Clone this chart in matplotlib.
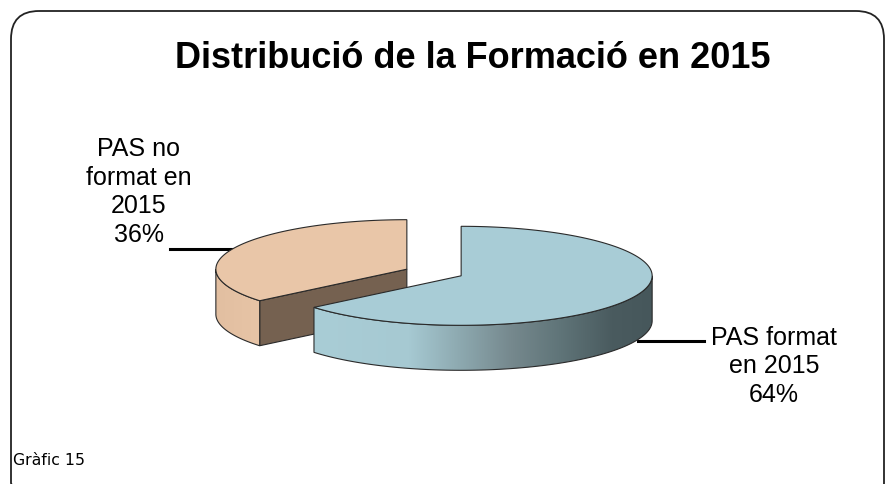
import numpy as np
import matplotlib
matplotlib.use('Agg')
import matplotlib.pyplot as plt
from matplotlib.patches import Polygon, FancyBboxPatch
from matplotlib.colors import LinearSegmentedColormap

# data (clockwise from 12 o'clock)
labels = ['PAS format\nen 2015', 'PAS no\nformat en\n2015']
values = [64, 36]
top_colors = ['#A8CCD6', '#E9C6A8']
cut_colors = ['#5E7479', '#756150']
title = 'Distribució de la Formació en 2015'
note = 'Gràfic 15'

W, H = 886, 485
fig = plt.figure(figsize=(W / 100, H / 100), dpi=100)
ax = fig.add_axes([0, 0, 1, 1])
ax.set_xlim(0, W)
ax.set_ylim(H, 0)
ax.axis('off')

# pie geometry (pixels)
cx, cy = 434, 273.5
rx, ry = 191, 49.5
depth = 45
explode = 30

def pt(c, t):
    return np.column_stack([c[0] + rx * np.cos(t), c[1] - ry * np.sin(t)])

def grad_fill(poly, x0, x1, colors, z):
    cmap = LinearSegmentedColormap.from_list('g', colors)
    img = np.linspace(0, 1, 256).reshape(1, -1)
    ys = poly[:, 1]
    im = ax.imshow(img, cmap=cmap, extent=[x0, x1, ys.max(), ys.min()],
                   aspect='auto', zorder=z, interpolation='bilinear')
    p = Polygon(poly, closed=True, fc='none', ec='none')
    ax.add_patch(p)
    im.set_clip_path(p)

wall_grads = [[(0, '#A9CDD6'), (0.28, '#A6C9D2'), (0.43, '#8DA9B0'),
               (0.58, '#76898E'), (0.73, '#5F7478'), (0.88, '#4A5B5F'),
               (1, '#46575B')],
              [(0, '#E2BFA1'), (1, '#E7C4A6')]]

total = sum(values)
start = np.pi / 2
slices = []
for v in values:
    sweep = 2 * np.pi * v / total
    slices.append((start - sweep, start))
    start -= sweep

# back slice (orange) first, then blue
order = [1, 0]
for k, i in enumerate(order):
    a0, a1 = slices[i]
    am = (a0 + a1) / 2
    c = (cx + explode * np.cos(am), cy - explode * ry / rx * np.sin(am))
    z = 2 + k * 5
    # radial cut faces that face the viewer
    for a, sign in ((a0, -1), (a1, 1)):
        nrm = a + sign * np.pi / 2
        if np.sin(nrm) < -1e-6:
            e = pt(c, np.array([a]))[0]
            face = np.array([c, e, e + [0, depth], [c[0], c[1] + depth]])
            ax.add_patch(Polygon(face, closed=True, fc=cut_colors[i],
                                 ec='#2a2a2a', lw=0.8, zorder=z))
    # outer wall (front half only)
    lo = a0 % (2 * np.pi)
    hi = lo + (a1 - a0)
    ws, we = max(lo, np.pi), min(hi, 2 * np.pi)
    if we > ws:
        t = np.linspace(ws, we, 120)
        arc = pt(c, t)
        wall = np.vstack([arc, arc[::-1] + [0, depth]])
        grad_fill(wall, arc[:, 0].min(), arc[:, 0].max(), wall_grads[i], z + 1)
        ax.add_patch(Polygon(wall, closed=True, fc='none', ec='#2a2a2a',
                             lw=0.8, zorder=z + 2))
    # top face
    t = np.linspace(a0, a1, 200)
    top = np.vstack([[c], pt(c, t)])
    ax.add_patch(Polygon(top, closed=True, fc=top_colors[i], ec='#2a2a2a',
                         lw=0.8, zorder=z + 3))

# labels
pct = [f'{round(100 * v / total)}%' for v in values]
lab_font = dict(family=['Liberation Sans', 'DejaVu Sans'], fontsize=18,
                ha='center', va='baseline', linespacing=1.24, color='black')
ax.text(774, 402, labels[0] + '\n' + pct[0], **lab_font, zorder=20)
ax.text(139, 242, labels[1] + '\n' + pct[1], **lab_font, zorder=20)
ax.plot([638, 704], [342, 342], color='black', lw=2.2, zorder=1)
ax.plot([170, 233], [250, 250], color='black', lw=2.2, zorder=1)

ax.text(473, 68, title, family=['Liberation Sans', 'DejaVu Sans'],
        fontsize=26, fontweight='bold', ha='center', va='baseline')
ax.text(13, 465, note, family='DejaVu Sans', fontsize=11.3,
        ha='left', va='baseline')

frame = FancyBboxPatch((11, 12), 873, 500, boxstyle='round,pad=0,rounding_size=28',
                       fc='none', ec='#222222', lw=1.3, zorder=0)
ax.add_patch(frame)

fig.savefig('out.png', dpi=100)
